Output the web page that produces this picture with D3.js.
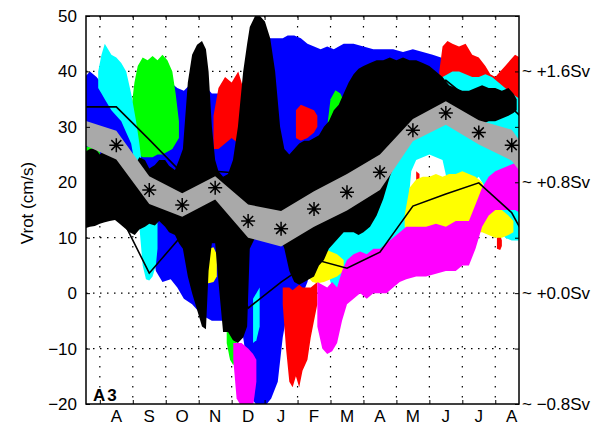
<!DOCTYPE html>
<html>
<meta charset="utf-8">
<head>
  <title>A3 Vrot</title>
</head>
<style>
body { margin: 0; background: #fff; }
svg { font-family: "Liberation Sans", Arial, sans-serif; }
.grid line { stroke: #000; stroke-width: 1.2; }
.frame { fill: none; stroke: #000; stroke-width: 1.5; }
.axis text { font-size: 17px; fill: #000; }
.axis path { display: none; }
.axis line { stroke: #000; stroke-width: 1; }
.mline { fill: none; stroke: #000; stroke-width: 1.6; }
</style>
<body>
<script src="https://cdnjs.cloudflare.com/ajax/libs/d3/7.8.5/d3.min.js"></script>
<script>

var width = 613, height = 431;
var plotL = 86, plotT = 16, plotR = 519, plotB = 404;

// time in months since 1 Aug; every row is [t, low, high] in cm/s
var months = ["A","S","O","N","D","J","F","M","A","M","J","J","A"];
var yTicks = [-20,-10,0,10,20,30,40,50];
var svLabels = [["+1.6Sv",40],["+0.8Sv",20],["+0.0Sv",0],["\u22120.8Sv",-20]];

var blue = [[-0.45,20,39],[-0.3,20,40],[-0.1,20,39],[0.1,20,37.5],[0.35,20,36],[0.6,20,35],
  [0.85,18,34],[1.0,14,33],[1.2,12,35],[1.5,12,38],[1.7,4,38],[1.9,2,38],[2.15,2.5,38],
  [2.35,1,37],[2.55,-1,36.5],[2.8,-2,38],[3.1,-4,38],[3.4,-5,36],[3.7,-5,36],[4.0,-5,36.5],
  [4.3,-6,36],[4.45,-12,40],[4.6,-19,44],[4.8,-20.5,46],[5.0,-20.5,46],[5.2,-19,46],[5.4,-16,46],
  [5.55,-8,46],[5.7,-3,46.5],[5.9,-1.5,46.5],[6.1,-1,46],[6.3,2,45],[6.5,7,44.5],[6.7,8,44],
  [6.9,9,44.5],[7.1,12,44],[7.4,15,45],[7.7,17,45],[8.0,19,44.5],[8.3,21,44],[8.6,22,44],
  [8.9,23,44],[9.2,24,43.5],[9.5,25,44],[9.8,26,43.5],[10.1,27,43],[10.35,29,42.5],[10.5,31,41],
  [10.6,32,36]];

var redTop = [[10.3,33,40],[10.4,32,44.5],[10.55,31,45.5],[10.7,31,45],[10.9,31,44.5],[11.1,31,45],
  [11.3,31,43],[11.5,31,42.5],[11.7,31,41],[11.85,31,39.5],[12.0,31,39],[12.15,31,40],[12.3,31,41],
  [12.45,31,42],[12.6,31,43],[12.75,31,42.5]];
var redFeb = [[5.95,28,33],[6.1,27.5,34],[6.3,28,33.5],[6.5,29,33],[6.6,30,32]];
var redDec = [[3.45,26,32],[3.6,26,37],[3.8,27,39],[4.0,28,38],[4.2,27,40],[4.4,28,36],[4.5,29,31]];
var redLow = [[5.55,-2,1],[5.65,-10,1],[5.75,-16,1],[5.85,-17,0.5],[5.95,-15,1],[6.05,-17,1.5],
  [6.15,-14,1],[6.3,-12,1],[6.4,-8,1],[6.5,-5,1.5],[6.6,-2,2]];
var redMar = [[7.05,1.8,4],[7.15,1.8,4.7],[7.25,2.5,4]];
var redMay = [[9.6,19,22],[9.7,19.5,21.5]];
var redAug = [[12.05,8,10],[12.15,7.8,10.5],[12.2,8.5,9.5]];

var greenJul = [[-0.45,23,26.5],[-0.2,23,26.3],[0.0,23,26]];
var greenSep = [[0.95,30,33],[1.05,26,38],[1.15,25,41],[1.3,24.5,42.5],[1.45,24.5,42],[1.6,24.5,42.8],
  [1.75,25,42],[1.9,25,43],[2.05,25.5,42],[2.2,26,40],[2.3,27,36],[2.4,28,31]];
var greenDec = [[3.85,-9,-6],[3.95,-12,-6],[4.05,-13,-6.5],[4.15,-11,-7]];
var greenMar = [[6.9,26,30],[7.0,24.5,35],[7.15,24.5,36.6],[7.3,25,36],[7.45,26,34],[7.55,28,31]];
var greenJun = [[10.75,35,36.6],[10.85,35.2,36.8],[10.95,35.5,36]];

var cyanAug = [[-0.05,37,40],[0.05,36,43],[0.15,35,45],[0.25,34,44],[0.35,33,43],[0.5,32,42.5],
  [0.65,31,41.5],[0.8,29,40],[0.95,27,36],[1.1,22,31],[1.2,12,27],[1.3,5,22],[1.4,2.5,20],
  [1.5,2.3,18],[1.6,3,17],[1.7,5,16],[1.75,8,14]];
var cyanJan = [[4.65,-9,-1],[4.75,-8.5,0],[4.85,-6,1]];
var cyanSpring = [[6.85,12,20],[6.95,3,27],[7.1,0,28],[7.3,-1,29],[7.5,-0.5,30],[7.7,0,31],
  [7.9,0.5,32],[8.1,0,33],[8.3,0.5,34],[8.5,1,35],[8.7,0.5,35.5],[8.9,1,36],[9.1,4,36.5],
  [9.3,12,37],[9.45,22,37],[9.6,24,37],[9.8,24.5,37.5],[10.0,25,38],[10.2,24.5,38.5],[10.4,24,39],
  [10.55,20,39.5],[10.7,17,40],[10.9,16,40],[11.1,17,39.5],[11.3,20,39],[11.5,21,39],
  [11.7,19,39.5],[11.9,16,39],[12.1,12,38],[12.3,10,37],[12.5,9.5,36],[12.75,9.5,35]];

var yellowNov = [[3.2,2,6],[3.3,1.8,8],[3.45,2,8.3],[3.55,3,7]];
var yellowMar = [[6.3,3,7],[6.45,2,8],[6.6,1.8,8.5],[6.8,2,8],[7.0,2.5,7.5],[7.2,3,7],[7.4,4,6]];
var yellowSummer = [[9.25,12,14],[9.4,11,19],[9.6,10.5,20.5],[9.8,11,21],[10.0,10.5,21],
  [10.2,10.5,21.5],[10.4,11,21],[10.6,11,21.5],[10.8,11.5,21.5],[11.0,11,22],[11.2,11,21.5],
  [11.4,11,21],[11.6,11,20],[11.8,10.5,17],[12.0,10,15],[12.2,10,15],[12.4,10.5,14],[12.55,11,13]];

var magentaDec = [[4.05,-12,-9],[4.15,-19,-9],[4.3,-20.5,-9],[4.5,-20.5,-10],[4.65,-20.5,-11],
  [4.75,-16,-12]];
var magentaSpring = [[6.6,-6,2],[6.75,-10,1.5],[6.9,-11,1],[7.05,-10.5,2],[7.2,-9,1],[7.35,-5,4],
  [7.5,-2,6],[7.7,-1,7],[7.9,0,7.5],[8.1,-1,7],[8.3,0,8],[8.5,0,8],[8.7,0,9],[8.9,1,10],
  [9.1,2,11],[9.3,2.5,12],[9.6,3,12],[9.9,3,12],[10.2,3.5,12.5],[10.5,4,12],[10.8,4,13],
  [11.0,5,13],[11.2,5,13],[11.4,8,16],[11.6,12,19],[11.8,14,21],[12.0,15,22],[12.2,15,22.5],
  [12.4,15,23],[12.6,15,23.5],[12.75,14.5,23]];

var black = [[-0.45,11.7,25.5],[-0.3,12,26],[-0.15,12.1,26.2],[0.0,12.5,25],[0.15,12.8,25.8],
  [0.3,13,25],[0.46,13.2,24.9],[0.6,12.5,23.5],[0.76,11.7,24.4],[0.9,11,23],[1.06,10.5,23.1],
  [1.2,11.5,24.5],[1.37,12,24],[1.5,12.5,22.5],[1.67,12.2,23.1],[1.8,13,24],[1.98,12,24],
  [2.1,11,23],[2.28,10.5,22.2],[2.4,9,24],[2.52,8,26],[2.67,3,38],[2.8,0,43],[2.95,-3,44.8],
  [3.1,-6,45.5],[3.22,-6.5,44],[3.3,4,40],[3.4,9,30],[3.5,9,24],[3.6,2,22],[3.74,-7,21],
  [3.89,-7,21.5],[4.04,-8.5,24],[4.19,-9,30],[4.35,-8,40],[4.47,-6,45],[4.55,8,48],[4.71,10,50],
  [4.86,11,50],[5.01,10,49],[5.17,11,46],[5.32,12,40],[5.47,10,30],[5.6,8,26],[5.75,4,25],
  [5.9,2,26],[6.05,1.5,27],[6.2,2,27.5],[6.35,2.5,27.5],[6.5,3,28],[6.65,5,28.5],[6.8,6,30],
  [6.95,8,31],[7.1,9,33],[7.25,10,34],[7.4,11,36],[7.55,11,38],[7.7,11,39.5],[7.85,10.5,40.5],
  [8.0,11,41],[8.2,12,41.5],[8.4,14,42],[8.6,17,42],[8.8,21,42.5],[9.0,24,42],[9.2,27,42.5],
  [9.4,28.5,42],[9.6,29.5,42],[9.8,30,41.5],[10.0,31,41],[10.2,32,40],[10.4,32.5,39],
  [10.6,32,37.5],[10.8,31.5,37],[11.0,31.5,36.5],[11.2,30.5,36.5],[11.4,30.5,37],[11.6,30.5,37.5],
  [11.8,31,37],[12.0,31,37],[12.2,31.5,36.5],[12.4,32,37],[12.55,32.5,36],[12.65,33,35]];

// monthly climatology, centred on mid-month (Jul of previous year .. Sep)
var climT    = [-0.5,0.5,1.5,2.5,3.5,4.5,5.5,6.5,7.5,8.5,9.5,10.5,11.5,12.5,13.5];
var climMean = [29,26.7,18.6,15.9,19,13,11.6,15.2,18.2,21.8,29.4,32.5,29,26.7,18.6];
var climStd  = [2.2,2.6,2.5,2.1,2.1,3,3.2,3.2,3.3,3.2,2,2.1,2.2,2.8,2.5];
var climMax  = [33.6,33.6,27.7,21.6,22,21.5,19.7,21.5,25.7,29.5,35,38.4,33.6,33.4,27.7];
var climMin  = [19.9,15.5,3.6,10.5,11.7,-2.7,2,6.1,4.5,7.4,15.7,17.9,19.9,14.5,3.6];

var x = d3.scaleLinear().domain([-0.42, 12.72]).range([plotL, plotR]);
var y = d3.scaleLinear().domain([-20, 50]).range([plotB, plotT]);

var svg = d3.select("body").append("svg")
    .attr("width", width)
    .attr("height", height);

svg.append("clipPath").attr("id", "plot")
  .append("rect")
    .attr("x", plotL).attr("y", plotT)
    .attr("width", plotR - plotL).attr("height", plotB - plotT);

var plot = svg.append("g").attr("clip-path", "url(#plot)");

var band = d3.area()
    .x(function(d) { return x(d[0]); })
    .y0(function(d) { return y(d[1]); })
    .y1(function(d) { return y(d[2]); });

// drawing order: later pieces lie on top
var pieces = [
  [blue, "#0000ff"],
  [redTop, "#ff0000"], [redFeb, "#ff0000"], [redDec, "#ff0000"], [redLow, "#ff0000"],
  [redMar, "#ff0000"], [redMay, "#ff0000"], [redAug, "#ff0000"],
  [greenJul, "#00ff00"], [greenSep, "#00ff00"], [greenDec, "#00ff00"], [greenMar, "#00ff00"],
  [greenJun, "#00ff00"],
  [cyanAug, "#00ffff"], [cyanJan, "#00ffff"], [cyanSpring, "#00ffff"],
  [yellowNov, "#ffff00"], [yellowMar, "#ffff00"], [yellowSummer, "#ffff00"],
  [magentaDec, "#ff00ff"], [magentaSpring, "#ff00ff"],
  [black, "#000000"]
];

// dotted grid under the data
var grid = plot.append("g").attr("class", "grid");
grid.selectAll(".gx")
  .data(d3.range(0, 13))
  .enter().append("line")
    .attr("x1", function(d) { return x(d); })
    .attr("x2", function(d) { return x(d); })
    .attr("y1", plotT).attr("y2", plotB)
    .style("stroke-dasharray", "1.5,8.5");
grid.selectAll(".gy")
  .data(yTicks.slice(1, -1))
  .enter().append("line")
    .attr("y1", function(d) { return y(d); })
    .attr("y2", function(d) { return y(d); })
    .attr("x1", plotL).attr("x2", plotR)
    .style("stroke-dasharray", "1.5,5.5");

plot.selectAll(".rec")
  .data(pieces)
  .enter().append("path")
    .attr("class", "rec")
    .attr("d", function(d) { return band(d[0]); })
    .style("fill", function(d) { return d[1]; });

var clim = climT.map(function(t, i) {
  return [t, climMean[i] - climStd[i], climMean[i] + climStd[i]];
});
plot.append("path")
    .attr("d", band(clim))
    .style("fill", "#a9a9a9");

var line = d3.line()
    .x(function(d) { return x(d[0]); })
    .y(function(d) { return y(d[1]); });

plot.append("path").attr("class", "mline")
    .attr("d", line(climT.map(function(t, i) { return [t, climMax[i]]; })));
plot.append("path").attr("class", "mline")
    .attr("d", line(climT.map(function(t, i) { return [t, climMin[i]]; })));

// asterisk markers at the visible month centres
var star = "M-7,0H7M0,-7V7M-5,-5L5,5M-5,5L5,-5";
plot.selectAll(".star")
  .data(climT.map(function(t, i) { return [t, climMean[i]]; })
    .filter(function(d) { return d[0] > 0 && d[0] < 13; }))
  .enter().append("path")
    .attr("transform", function(d) { return "translate(" + x(d[0]) + "," + y(d[1]) + ")"; })
    .attr("d", star)
    .style("stroke", "#000").style("stroke-width", 1.5).style("fill", "none");

// axes
svg.append("g").attr("class", "axis")
    .attr("transform", "translate(" + plotL + ",0)")
    .call(d3.axisLeft(y).tickValues(yTicks).tickSizeInner(-4).tickPadding(9)
      .tickFormat(function(d) { return d < 0 ? "\u2212" + Math.abs(d) : d; }));

svg.append("g").attr("class", "axis")
    .attr("transform", "translate(" + plotR + ",0)")
    .call(d3.axisRight(y).tickValues(yTicks).tickSizeInner(-4).tickFormat(""));

svg.append("g").attr("class", "axis")
    .attr("transform", "translate(0," + plotB + ")")
    .call(d3.axisBottom(x).tickValues(d3.range(0, 13)).tickSizeInner(-4).tickFormat(""));

svg.append("g").attr("class", "axis")
    .attr("transform", "translate(0," + plotT + ")")
    .call(d3.axisTop(x).tickValues(d3.range(0, 13)).tickSizeInner(-4).tickFormat(""));

svg.append("g").attr("class", "axis")
  .selectAll("text")
  .data(months)
  .enter().append("text")
    .attr("x", function(d, i) { return x(i + 0.5); })
    .attr("y", 422)
    .attr("text-anchor", "middle")
    .text(function(d) { return d; });

svg.append("g").attr("class", "axis")
  .selectAll("text")
  .data(svLabels)
  .enter().append("text")
    .attr("x", plotR + 3)
    .attr("y", function(d) { return y(d[1]) + 6; })
    .text(function(d) { return "~ " + d[0]; });

svg.append("rect").attr("class", "frame")
    .attr("x", plotL).attr("y", plotT)
    .attr("width", plotR - plotL).attr("height", plotB - plotT);

svg.append("text")
    .attr("transform", "translate(33," + 203 + ") rotate(-90)")
    .attr("text-anchor", "middle")
    .style("font-size", "17px")
    .text("Vrot (cm/s)");

svg.append("text")
    .attr("x", 93).attr("y", 401)
    .style("font-size", "17px").style("font-weight", "bold")
    .style("letter-spacing", "2px")
    .text("A3");

</script>
</body>
</html>
